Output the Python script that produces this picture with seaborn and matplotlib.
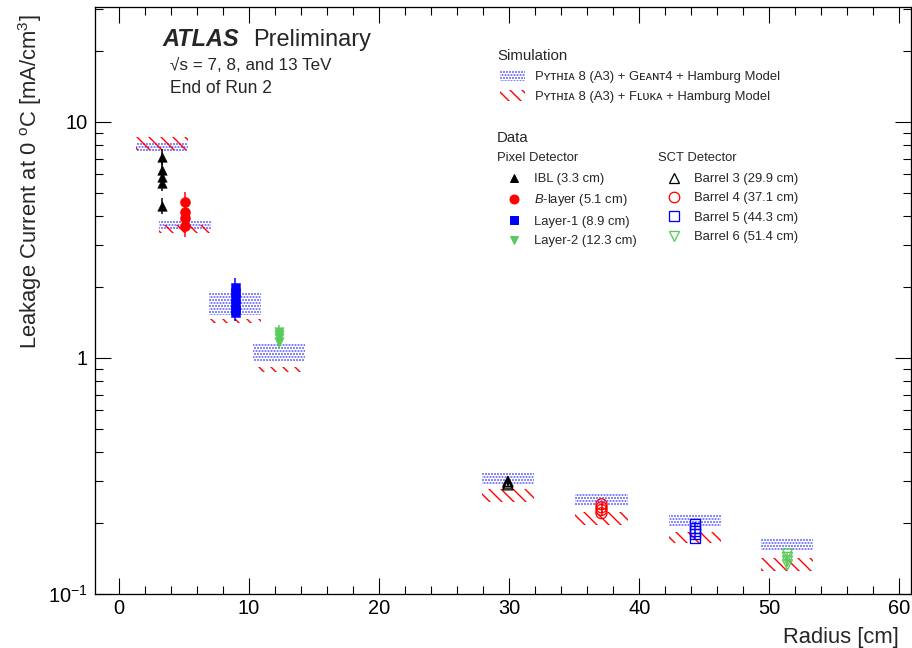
import numpy as np
import pandas as pd
import matplotlib
matplotlib.use("Agg")
import matplotlib.pyplot as plt
import seaborn as sns
from matplotlib.patches import Patch
from matplotlib.lines import Line2D
from matplotlib.ticker import FixedLocator, FixedFormatter, LogLocator, NullFormatter, MultipleLocator

# ---------------- data ----------------
layer_names = ["IBL", "B-layer", "Layer-1", "Layer-2",
               "Barrel 3", "Barrel 4", "Barrel 5", "Barrel 6"]
legend_labels = ["IBL (3.3 cm)", "$\\it{B}$-layer (5.1 cm)", "Layer-1 (8.9 cm)", "Layer-2 (12.3 cm)",
                 "Barrel 3 (29.9 cm)", "Barrel 4 (37.1 cm)", "Barrel 5 (44.3 cm)", "Barrel 6 (51.4 cm)"]
radii = [3.3, 5.1, 8.9, 12.3, 29.9, 37.1, 44.3, 51.4]

current_ibl = [7.11, 6.27, 5.85, 5.52, 4.41]
current_blayer = [4.58, 4.16, 3.92, 3.62]
current_layer1 = [2.00, 1.90, 1.80, 1.70, 1.62, 1.57]
current_layer2 = [1.29, 1.25, 1.21, 1.17]
current_barrel3 = [0.300, 0.295, 0.290]
current_barrel4 = [0.240, 0.233, 0.227, 0.220]
current_barrel5 = [0.198, 0.191, 0.185, 0.179, 0.173]
current_barrel6 = [0.148, 0.143, 0.138, 0.133]
currents = [current_ibl, current_blayer, current_layer1, current_layer2,
            current_barrel3, current_barrel4, current_barrel5, current_barrel6]
rel_err = [0.08, 0.10, 0.09, 0.07, 0.02, 0.02, 0.02, 0.02]

# simulation bands (low, high)
geant4_lo = [7.53, 3.49, 1.52, 0.962, 0.292, 0.236, 0.194, 0.152]
geant4_hi = [8.22, 3.84, 1.88, 1.16, 0.326, 0.268, 0.218, 0.173]
fluka_lo = [7.60, 3.39, 1.41, 0.873, 0.245, 0.196, 0.164, 0.125]
fluka_hi = [8.64, 3.66, 1.46, 0.917, 0.279, 0.222, 0.183, 0.142]
band_halfwidth = 2.0

colors = ["black", "#ff0000", "#0000ff", "#5acb5a",
          "black", "#ff0000", "#0000ff", "#5acb5a"]
markers = ["^", "o", "s", "v", "^", "o", "s", "v"]
filled = [True, True, True, True, False, False, False, False]
msizes = [9.5, 10, 9, 9.5, 10, 11, 10, 10]

rows = []
for name, r, vals in zip(layer_names, radii, currents):
    for v in vals:
        rows.append({"layer": name, "radius": r, "current": v})
df = pd.DataFrame(rows)

# ---------------- style ----------------
sns.set_theme(style="ticks")
plt.rcParams["font.family"] = ["Liberation Sans", "DejaVu Sans"]
plt.rcParams["mathtext.fontset"] = "custom"
plt.rcParams["mathtext.rm"] = "Liberation Sans"
plt.rcParams["mathtext.it"] = "Liberation Sans:italic"
plt.rcParams["mathtext.default"] = "regular"
plt.rcParams["hatch.linewidth"] = 1.4

G4_COLOR = "#5a5aff"
FLUKA_COLOR = "#ff0000"
G4_HATCH = "...."
FLUKA_HATCH = "\\\\"

DPI = 72
fig = plt.figure(figsize=(912 / DPI, 648 / DPI), dpi=DPI)
ax = fig.add_axes([95 / 912, 54 / 648, (911 - 95) / 912, (594 - 7) / 648])

# simulation bands
for i, r in enumerate(radii):
    ax.fill_between([r - band_halfwidth, r + band_halfwidth], geant4_lo[i], geant4_hi[i],
                    facecolor="none", edgecolor=G4_COLOR, hatch=G4_HATCH, linewidth=0, zorder=1)
    ax.fill_between([r - band_halfwidth, r + band_halfwidth], fluka_lo[i], fluka_hi[i],
                    facecolor="none", edgecolor=FLUKA_COLOR, hatch=FLUKA_HATCH, linewidth=0, zorder=1)

# data points
for i, name in enumerate(layer_names):
    sub = df[df["layer"] == name]
    ax.errorbar(sub["radius"], sub["current"], yerr=sub["current"] * rel_err[i],
                fmt="none", ecolor=colors[i], elinewidth=1.5, capsize=0, zorder=2)
    if filled[i]:
        sns.scatterplot(data=sub, x="radius", y="current", marker=markers[i], color=colors[i],
                        edgecolor=colors[i], s=msizes[i] ** 2, linewidth=0.5, ax=ax,
                        legend=False, zorder=3)
    else:
        sns.scatterplot(data=sub, x="radius", y="current", marker=markers[i], facecolor="none",
                        edgecolor=colors[i], s=msizes[i] ** 2, linewidth=1.3, ax=ax,
                        legend=False, zorder=3)

ax.set_yscale("log")
ax.set_xlim(-1.85, 60.9)
ax.set_ylim(0.1, 30.7)

ax.xaxis.set_major_locator(MultipleLocator(10))
ax.xaxis.set_minor_locator(MultipleLocator(2))
ax.yaxis.set_major_locator(FixedLocator([0.1, 1, 10]))
ax.yaxis.set_major_formatter(FixedFormatter(["$10^{-1}$", "1", "10"]))
ax.yaxis.set_minor_locator(LogLocator(base=10, subs=np.arange(2, 10)))
ax.yaxis.set_minor_formatter(NullFormatter())

ax.tick_params(which="both", direction="in", top=True, right=True, width=1.1, colors="black",
               labelsize=20)
ax.tick_params(axis="x", which="major", length=16, pad=5)
ax.tick_params(axis="x", which="minor", length=8)
ax.tick_params(axis="y", which="major", length=16, pad=7)
ax.tick_params(axis="y", which="minor", length=8)
for sp in ax.spines.values():
    sp.set_linewidth(1.3)
    sp.set_color("black")

ax.set_xlabel("Radius [cm]", fontsize=22, loc="right")
ax.set_ylabel("Leakage Current at 0 $^{o}$C [mA/cm$^{3}$]", fontsize=22, loc="top")
ax.xaxis.set_label_coords((899 - 95) / 816, -0.056)
ax.yaxis.set_label_coords(-0.062, (594 - 14) / 587)

# ATLAS label
fig.text(162 / 912, 1 - 46 / 648, "ATLAS", fontsize=23.5, fontweight="bold", fontstyle="italic",
         va="baseline", ha="left")
fig.text(253 / 912, 1 - 46 / 648, "Preliminary", fontsize=23.5, va="baseline", ha="left")
fig.text(170 / 912, 1 - 70 / 648, "\u221as = 7, 8, and 13 TeV", fontsize=17, va="baseline", ha="left")
fig.text(170 / 912, 1 - 93 / 648, "End of Run 2", fontsize=17.5, va="baseline", ha="left")

# simulation legend
fig.text(497 / 912, 1 - 56 / 648, "Simulation", fontsize=15, va="center", ha="left")
sim_handles = [Patch(facecolor="none", edgecolor=G4_COLOR, hatch=G4_HATCH, linewidth=0),
               Patch(facecolor="none", edgecolor=FLUKA_COLOR, hatch=FLUKA_HATCH, linewidth=0)]
sim_labels = ["P\u028f\u1d1b\u029c\u026a\u1d00 8 (A3) + G\u1d07\u1d00\u0274\u1d1b4 + Hamburg Model",
              "P\u028f\u1d1b\u029c\u026a\u1d00 8 (A3) + F\u029f\u1d1c\u1d0b\u1d00 + Hamburg Model"]
leg1 = fig.legend(sim_handles, sim_labels, loc="upper left", bbox_to_anchor=(500 / 912, 1 - 70 / 648),
                  frameon=False, fontsize=13, borderpad=0, borderaxespad=0, handlelength=1.9,
                  handleheight=0.95, handletextpad=0.8, labelspacing=0.55)

fig.text(497 / 912, 1 - 138 / 648, "Data", fontsize=15, va="center", ha="left")
fig.text(497 / 912, 1 - 158 / 648, "Pixel Detector", fontsize=13, va="center", ha="left")
fig.text(658 / 912, 1 - 158 / 648, "SCT Detector", fontsize=13, va="center", ha="left")


def handle(i):
    if filled[i]:
        return Line2D([], [], linestyle="none", marker=markers[i], color=colors[i],
                      markersize=msizes[i] - 1, markeredgecolor=colors[i])
    return Line2D([], [], linestyle="none", marker=markers[i], markerfacecolor="none",
                  markeredgecolor=colors[i], markersize=msizes[i] - 0.5, markeredgewidth=1.3)


leg2 = fig.legend([handle(i) for i in range(8)], legend_labels, loc="upper left", ncols=2,
                  bbox_to_anchor=(502 / 912, 1 - 173 / 648), frameon=False, fontsize=13,
                  borderpad=0, borderaxespad=0, handlelength=1.9, handletextpad=0.6,
                  labelspacing=0.56, columnspacing=1.9)

fig.savefig("out.png", dpi=DPI, facecolor="white")
